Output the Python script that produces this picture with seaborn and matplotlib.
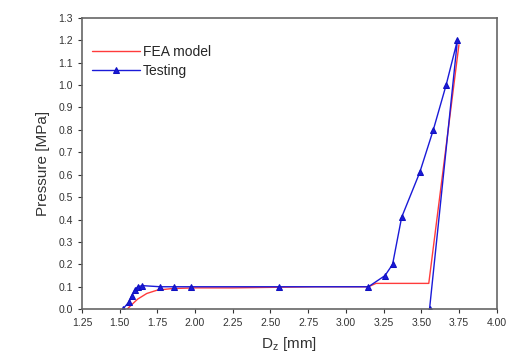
import numpy as np
import pandas as pd
import matplotlib
matplotlib.use("Agg")
import matplotlib.pyplot as plt
import seaborn as sns

sns.set_style("ticks")
plt.rcParams['font.family'] = ['Liberation Sans', 'DejaVu Sans']

# FEA model curve
fea_x = [1.55, 1.58, 1.62, 1.68, 1.75, 1.85, 2.00, 2.25, 2.80, 3.15, 3.20, 3.55, 3.75]
fea_y = [0.00, 0.02, 0.045, 0.07, 0.085, 0.092, 0.095, 0.095, 0.10, 0.10, 0.115, 0.115, 1.18]

# Testing curve (loading then unloading)
test_x = [1.52, 1.56, 1.58, 1.60, 1.62, 1.65, 1.77, 1.86, 1.97, 2.56, 3.15,
          3.26, 3.31, 3.37, 3.49, 3.58, 3.665, 3.74, 3.555]
test_y = [0.00, 0.03, 0.06, 0.085, 0.10, 0.105, 0.10, 0.10, 0.10, 0.10, 0.10,
          0.15, 0.20, 0.41, 0.61, 0.80, 1.00, 1.20, 0.00]

xticks = [1.25, 1.50, 1.75, 2.00, 2.25, 2.50, 2.75, 3.00, 3.25, 3.50, 3.75, 4.00]
yticks = [0.0, 0.1, 0.2, 0.3, 0.4, 0.5, 0.6, 0.7, 0.8, 0.9, 1.0, 1.1, 1.2, 1.3]

fig = plt.figure(figsize=(5.12, 3.57), dpi=100)
ax = fig.add_axes([0.160, 0.134, 0.810, 0.816])

sns.lineplot(x=fea_x, y=fea_y, sort=False, estimator=None, ax=ax,
             color='#ff3b3b', lw=1.0, label='FEA model')
sns.lineplot(x=test_x, y=test_y, sort=False, estimator=None, ax=ax,
             color='#1a1ad8', lw=1.0, marker='^', markersize=4.5,
             markeredgecolor='#1010c0', label='Testing')

ax.set_xlim(1.25, 4.00)
ax.set_ylim(0.0, 1.3)
ax.set_xticks(xticks)
ax.set_yticks(yticks)
ax.set_xticklabels([f"{v:.2f}" for v in xticks])
ax.set_yticklabels([f"{v:.1f}" for v in yticks])
ax.tick_params(direction='out', length=3, width=0.8, labelsize=7.5, colors='#333333')

for s in ax.spines.values():
    s.set_color('#666666')
    s.set_linewidth(1.2)

ax.set_xlabel('D$_\\mathregular{z}$ [mm]', fontsize=11, color='#333333', labelpad=5)
ax.set_ylabel('Pressure [MPa]', fontsize=11, color='#333333', labelpad=6)

ax.legend(loc='upper left', frameon=False, fontsize=10, handlelength=3.5,
          handletextpad=0.2, labelspacing=0.35, borderaxespad=0.3,
          bbox_to_anchor=(0.0, 0.94))

fig.savefig('out.png', dpi=100)
